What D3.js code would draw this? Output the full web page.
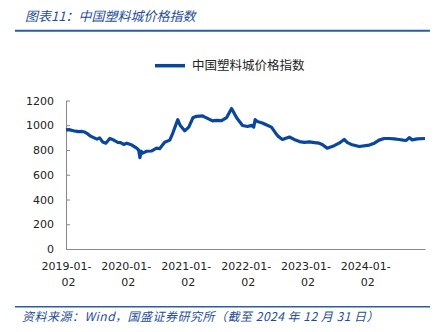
<!DOCTYPE html>
<html><head><meta charset="utf-8">
<script src="https://cdn.jsdelivr.net/npm/d3@7"></script>
<style>
html,body{margin:0;padding:0;background:#fff;}
svg{display:block;}
</style></head>
<body>
<svg id="c" width="441" height="332"></svg>
<script>
const titleText = "图表11：中国塑料城价格指数";
const sourceText = "资料来源：Wind，国盛证券研究所（截至 2024 年 12 月 31 日）";
const seriesName = "中国塑料城价格指数";
const yTicks = [0, 200, 400, 600, 800, 1000, 1200];
const xTickDates = ["2019-01-02","2020-01-02","2021-01-02","2022-01-02","2023-01-02","2024-01-02"];
const dates = ["2019-01-02","2019-01-20","2019-02-10","2019-03-01","2019-03-20","2019-04-10","2019-04-26","2019-05-15","2019-06-01","2019-06-20","2019-07-10","2019-07-26","2019-08-14","2019-09-02","2019-09-26","2019-10-20","2019-11-14","2019-12-01","2019-12-20","2020-01-08","2020-02-08","2020-03-08","2020-03-20","2020-03-28","2020-04-05","2020-04-14","2020-05-08","2020-06-08","2020-07-08","2020-07-26","2020-08-26","2020-09-26","2020-10-14","2020-11-14","2020-11-28","2020-12-26","2021-01-20","2021-02-14","2021-03-08","2021-04-14","2021-05-08","2021-06-14","2021-07-08","2021-08-08","2021-09-08","2021-10-08","2021-11-08","2021-12-14","2022-01-14","2022-02-08","2022-02-20","2022-03-01","2022-03-14","2022-04-14","2022-05-14","2022-06-08","2022-07-02","2022-07-20","2022-08-14","2022-09-26","2022-11-02","2022-11-26","2022-12-26","2023-01-26","2023-02-26","2023-03-26","2023-04-14","2023-05-14","2023-06-26","2023-07-26","2023-08-26","2023-09-15","2023-10-08","2023-11-26","2024-01-26","2024-02-26","2024-03-26","2024-04-26","2024-05-26","2024-06-26","2024-07-26","2024-08-20","2024-09-08","2024-09-26","2024-10-14","2024-11-14","2024-12-31"];
const values = [962,965,958,952,948,950,945,930,912,900,888,898,865,855,893,880,862,860,845,855,840,815,800,738,790,775,790,792,815,810,862,880,935,1045,1000,955,985,1060,1072,1075,1060,1035,1040,1038,1062,1135,1060,998,990,1000,985,1045,1030,1018,1000,985,940,910,885,905,880,868,862,865,860,855,845,815,835,855,885,860,845,828,840,855,880,893,893,890,885,880,878,900,882,890,893];

const parse = d3.timeParse("%Y-%m-%d");
const data = dates.map((d,i)=>({date:parse(d), value:values[i]}));
const svg = d3.select("#c");
const blue = "#0a479c";
const textBlue = "#1f4e96";

// title
svg.append("text").attr("x",25).attr("y",20.5).attr("font-family","'Noto Sans CJK SC'")
  .attr("font-size",13).attr("font-style","italic").attr("fill",textBlue).text(titleText);
svg.append("line").attr("x1",15).attr("x2",430).attr("y1",30.7).attr("y2",30.7)
  .attr("stroke","#2a5ca8").attr("stroke-width",2);

// scales
const x = d3.scaleTime().domain([parse("2019-01-02"), parse("2024-12-31")]).range([66, 425]);
const y = d3.scaleLinear().domain([0,1200]).range([249, 100.5]);

// y axis
const yAxis = svg.append("g").attr("transform","translate(66,0)")
  .call(d3.axisLeft(y).tickValues(yTicks).tickSizeInner(-4).tickSizeOuter(0).tickPadding(12).tickFormat(d3.format("d")));
yAxis.select(".domain").attr("stroke","#888");
yAxis.selectAll(".tick line").attr("stroke","#888");
yAxis.selectAll("text").attr("font-family","'DejaVu Sans'").attr("font-size",11).attr("fill","#222");

// x axis
const xAxis = svg.append("g").attr("transform","translate(0,249)")
  .call(d3.axisBottom(x).tickValues(xTickDates.map(parse)).tickSize(0).tickFormat(""));
xAxis.select(".domain").attr("stroke","#888");
xAxis.selectAll(".tick").each(function(d,i){
  const s = xTickDates[i];
  const t = d3.select(this).append("text").attr("font-family","'DejaVu Sans'").attr("font-size",11)
    .attr("fill","#222").attr("text-anchor","middle");
  t.append("tspan").attr("x",0).attr("y",21).text(s.slice(0,8));
  t.append("tspan").attr("x",2).attr("y",37).text(s.slice(8));
});

// line
const line = d3.line().x(d=>x(d.date)).y(d=>y(d.value));
svg.append("path").datum(data).attr("d",line).attr("fill","none")
  .attr("stroke",blue).attr("stroke-width",3.2).attr("stroke-linejoin","round");

// legend
svg.append("line").attr("x1",155).attr("x2",185).attr("y1",65.7).attr("y2",65.7)
  .attr("stroke",blue).attr("stroke-width",3.5);
svg.append("text").attr("x",192).attr("y",70).attr("font-family","'Noto Sans CJK SC'")
  .attr("font-size",12.5).attr("fill","#222").text(seriesName);

// source
svg.append("line").attr("x1",15).attr("x2",430).attr("y1",306.7).attr("y2",306.7)
  .attr("stroke","#2a5ca8").attr("stroke-width",1.5);
svg.append("text").attr("x",22).attr("y",321).attr("font-family","'Noto Sans CJK SC'")
  .attr("font-size",12).attr("letter-spacing",0.5).attr("font-style","italic").attr("fill",textBlue).text(sourceText);
</script>
</body></html>
